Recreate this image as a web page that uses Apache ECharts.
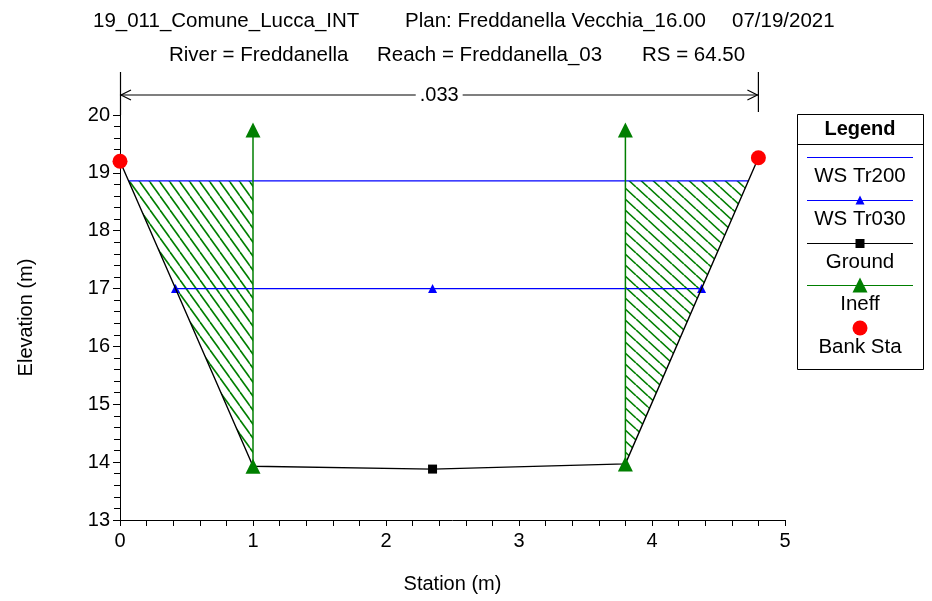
<!DOCTYPE html>
<html>
<head>
<meta charset="utf-8">
<script src="https://cdn.jsdelivr.net/npm/echarts@6/dist/echarts.min.js"></script>
<style>
  html, body { margin: 0; padding: 0; background: #fff; }
  #chart { width: 932px; height: 601px; }
</style>
</head>
<body>
<div id="chart"></div>
<script>
// cross section data (station m, elevation m)
const groundX = [0, 1.0, 2.35, 3.8, 4.8];
const groundY = [19.2, 13.93, 13.88, 13.97, 19.26];
const wsTr200 = 18.86;
const wsTr030 = 17.0;
const wsTr030Sta = [2.35];            // interior ground point carrying a marker
const ineffSta = [1.0, 3.8];
const ineffTop = [19.74, 19.74];
const bankSta = [0, 4.8];
const nValueSta = [0, 4.8];
const nValue = '.033';
const xTicks = [0, 5, 1];   // min, max, interval
const yTicks = [13, 20, 1];

const FONT = 'Liberation Sans, Arial, sans-serif';
const GREEN = '#007f00';
const BLUE = '#0000ff';

function groundAt(x) {
  for (let i = 0; i < groundX.length - 1; i++) {
    if (x >= groundX[i] && x <= groundX[i + 1]) {
      const t = (x - groundX[i]) / (groundX[i + 1] - groundX[i]);
      return groundY[i] + t * (groundY[i + 1] - groundY[i]);
    }
  }
  return null;
}

// where the water surface meets the ground on the left and right
function wsEdges(ws) {
  let left = null, right = null;
  for (let i = 0; i < groundX.length - 1; i++) {
    const a = groundY[i], b = groundY[i + 1];
    if ((a - ws) * (b - ws) <= 0 && a !== b) {
      const x = groundX[i] + (ws - a) / (b - a) * (groundX[i + 1] - groundX[i]);
      if (left === null) left = x;
      right = x;
    }
  }
  return [left, right];
}

const tr200Edges = wsEdges(wsTr200);
const tr030Edges = wsEdges(wsTr030);

// wetted polygon between ground and WS inside [x0, x1]
function wetPolygon(x0, x1, ws) {
  const pts = [];
  const xs = [x0].concat(groundX.filter(x => x > x0 && x < x1), [x1]);
  const edges = wsEdges(ws).filter(x => x > x0 && x < x1);
  const all = xs.concat(edges).sort((a, b) => a - b);
  all.forEach(x => {
    const g = groundAt(x);
    if (g <= ws + 1e-9) pts.push([x, g]);
  });
  const top = pts.slice().reverse().map(p => [p[0], ws]);
  return pts.concat(top);
}

const hatchPolys = [
  wetPolygon(groundX[0], ineffSta[0], wsTr200),
  wetPolygon(ineffSta[1], groundX[groundX.length - 1], wsTr200)
];

function makeHatch(w, h) {
  const c = document.createElement('canvas');
  c.width = w; c.height = h;
  const ctx = c.getContext('2d');
  ctx.strokeStyle = GREEN;
  ctx.lineWidth = 1.6;
  [-w, 0, w].forEach(dx => {
    ctx.beginPath();
    ctx.moveTo(dx, 0);
    ctx.lineTo(dx + w, h);
    ctx.stroke();
  });
  return c;
}
const hatchTiles = [makeHatch(10, 14), makeHatch(12, 11)];

const chart = echarts.init(document.getElementById('chart'), null, { renderer: 'canvas' });

const axisCommon = {
  type: 'value',
  nameLocation: 'middle',
  nameTextStyle: { fontFamily: FONT, fontSize: 20, color: '#000' },
  axisLine: { show: true, onZero: false, lineStyle: { color: '#000', width: 1 } },
  axisTick: { show: true, inside: false, length: 7, lineStyle: { color: '#000' } },
  minorTick: { show: true, splitNumber: 5, length: 6, lineStyle: { color: '#000' } },
  axisLabel: { fontFamily: FONT, fontSize: 20, color: '#000' },
  splitLine: { show: false },
  minorSplitLine: { show: false }
};

const legendItems = [
  { name: 'WS Tr200', y: 157, color: BLUE, symbol: null },
  { name: 'WS Tr030', y: 200, color: BLUE, symbol: 'triangle', size: 9 },
  { name: 'Ground', y: 243, color: '#000', symbol: 'square', size: 9 },
  { name: 'Ineff', y: 285, color: GREEN, symbol: 'triangle', size: 15 },
  { name: 'Bank Sta', y: 328, color: 'red', symbol: 'circle', size: 15, noLine: true }
];

const legendGraphics = [
  { type: 'rect', shape: { x: 797.5, y: 114.5, width: 126, height: 255 },
    style: { fill: '#fff', stroke: '#000', lineWidth: 1 } },
  { type: 'line', shape: { x1: 797.5, y1: 144.5, x2: 923.5, y2: 144.5 },
    style: { stroke: '#000', lineWidth: 1 } },
  { type: 'text', x: 860, y: 129,
    style: { text: 'Legend', font: 'bold 20px ' + FONT, fill: '#000', align: 'center', verticalAlign: 'middle' } }
];
legendItems.forEach(it => {
  const cx = 860;
  if (!it.noLine) {
    legendGraphics.push({ type: 'line', shape: { x1: 807, y1: it.y + 0.5, x2: 913, y2: it.y + 0.5 },
      style: { stroke: it.color, lineWidth: 1.2 } });
  }
  const s = it.size;
  if (it.symbol === 'triangle') {
    legendGraphics.push({ type: 'polygon',
      shape: { points: [[cx, it.y - s / 2], [cx - s / 2, it.y + s / 2], [cx + s / 2, it.y + s / 2]] },
      style: { fill: it.color } });
  } else if (it.symbol === 'square') {
    legendGraphics.push({ type: 'rect', shape: { x: cx - s / 2, y: it.y - s / 2 + 0.5, width: s, height: s },
      style: { fill: it.color } });
  } else if (it.symbol === 'circle') {
    legendGraphics.push({ type: 'circle', shape: { cx: cx, cy: it.y, r: s / 2 }, style: { fill: it.color } });
  }
  legendGraphics.push({ type: 'text', x: cx, y: it.y + 19,
    style: { text: it.name, font: '20.5px ' + FONT, fill: '#000', align: 'center', verticalAlign: 'middle' } });
});

const titleGraphics = [
  ['19_011_Comune_Lucca_INT', 93, 21],
  ['Plan: Freddanella Vecchia_16.00', 405, 21],
  ['07/19/2021', 732, 21],
  ['River = Freddanella', 169, 55],
  ['Reach = Freddanella_03', 377, 55],
  ['RS = 64.50', 642, 55]
].map(t => ({ type: 'text', x: t[1], y: t[2],
  style: { text: t[0], font: '20.5px ' + FONT, fill: '#000', align: 'left', verticalAlign: 'middle' } }));

// ground markers only where no other symbol sits on top of them
const coveredSta = ineffSta.concat(bankSta);
const groundData = groundX.map((x, i) => {
  const hidden = coveredSta.some(s => Math.abs(s - x) < 1e-6);
  return hidden ? { value: [x, groundY[i]], symbol: 'none' } : [x, groundY[i]];
});

const option = {
  animation: false,
  backgroundColor: '#fff',
  grid: { left: 120, right: 147, top: 115, bottom: 81, containLabel: false },
  xAxis: Object.assign({}, axisCommon, {
    min: xTicks[0], max: xTicks[1], interval: xTicks[2],
    name: 'Station (m)', nameGap: 54,
    axisTick: { show: true, inside: false, length: 6, lineStyle: { color: '#000' } },
    minorTick: { show: true, splitNumber: 5, length: 6, lineStyle: { color: '#000' } },
    axisLabel: Object.assign({}, axisCommon.axisLabel, { margin: 11 })
  }),
  yAxis: Object.assign({}, axisCommon, {
    min: yTicks[0], max: yTicks[1], interval: yTicks[2],
    name: 'Elevation (m)', nameGap: 84,
    axisLabel: Object.assign({}, axisCommon.axisLabel, { margin: 10 })
  }),
  graphic: titleGraphics.concat(legendGraphics),
  series: [
    {
      name: 'hatch',
      type: 'custom',
      data: hatchPolys.map((p, i) => [i]),
      encode: { x: -1, y: -1 },
      z: 1,
      silent: true,
      renderItem: function (params, api) {
        const i = params.dataIndex;
        const pts = hatchPolys[i].map(p => api.coord(p));
        return { type: 'polygon', shape: { points: pts },
          style: { fill: { image: hatchTiles[i], repeat: 'repeat' }, stroke: null } };
      }
    },
    {
      name: 'WS Tr200',
      type: 'line',
      data: [[tr200Edges[0], wsTr200], [tr200Edges[1], wsTr200]],
      showSymbol: false, symbol: 'none',
      lineStyle: { color: BLUE, width: 1.3 },
      z: 3
    },
    {
      name: 'WS Tr030',
      type: 'line',
      data: [[tr030Edges[0], wsTr030]].concat(wsTr030Sta.map(x => [x, wsTr030]), [[tr030Edges[1], wsTr030]]),
      symbol: 'triangle', symbolSize: 9,
      itemStyle: { color: BLUE },
      lineStyle: { color: BLUE, width: 1.3 },
      z: 3
    },
    {
      name: 'Ground',
      type: 'line',
      data: groundData,
      symbol: 'rect', symbolSize: 9,
      itemStyle: { color: '#000' },
      lineStyle: { color: '#000', width: 1.4 },
      z: 4
    },
    ...ineffSta.map((x, i) => ({
      name: 'Ineff',
      type: 'line',
      data: [[x, groundAt(x)], [x, ineffTop[i]]],
      symbol: 'triangle', symbolSize: 15,
      itemStyle: { color: GREEN },
      lineStyle: { color: GREEN, width: 1.5 },
      z: 5
    })),
    {
      name: 'Bank Sta',
      type: 'scatter',
      data: bankSta.map(x => [x, groundAt(x)]),
      symbol: 'circle', symbolSize: 15,
      itemStyle: { color: '#ff0000', opacity: 1 },
      z: 6
    },
    {
      name: 'n value',
      type: 'custom',
      data: [[nValueSta[0], nValueSta[1]]],
      encode: { x: [0, 1], y: -1 },
      clip: false,
      silent: true,
      z: 2,
      renderItem: function (params, api) {
        const a = api.coord([api.value(0), yTicks[0]])[0];
        const b = api.coord([api.value(1), yTicks[0]])[0];
        const top = api.coord([0, yTicks[1]])[1];
        const y = top - 20;
        const ls = { stroke: '#000', lineWidth: 1.2, fill: null };
        return {
          type: 'group',
          children: [
            { type: 'line', shape: { x1: a, y1: y, x2: b, y2: y }, style: ls },
            { type: 'line', shape: { x1: a + 0.5, y1: top - 43, x2: a + 0.5, y2: top }, style: ls },
            { type: 'line', shape: { x1: b, y1: top - 43, x2: b, y2: top - 3 }, style: ls },
            { type: 'polyline', shape: { points: [[a + 11, y - 5], [a + 1, y], [a + 11, y + 5]] }, style: ls },
            { type: 'polyline', shape: { points: [[b - 11, y - 5], [b - 1, y], [b - 11, y + 5]] }, style: ls },
            { type: 'text', x: (a + b) / 2, y: y,
              style: { text: nValue, font: '20px ' + FONT, fill: '#000', align: 'center', verticalAlign: 'middle',
                backgroundColor: '#fff', padding: [0, 4] } }
          ]
        };
      }
    }
  ]
};

chart.setOption(option);
</script>
</body>
</html>
